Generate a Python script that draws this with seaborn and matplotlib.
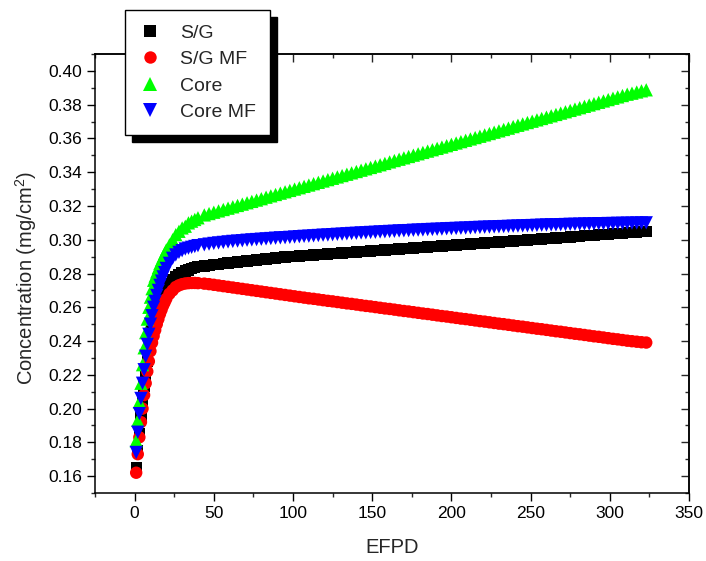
import matplotlib

matplotlib.use("Agg", force=True)
import matplotlib.pyplot as plt
import pandas as pd
import seaborn as sns
from matplotlib.ticker import MultipleLocator, FormatStrFormatter

# EFPD sample positions: daily at the start, every 2 then every 3 days
efpd = [
    1, 2, 3, 4, 5, 6, 7, 8, 9, 10, 11, 12, 13, 14, 15, 16, 17, 18, 19, 20,
    22, 24, 26, 28, 30, 32, 34, 36, 38, 40,
    44, 47, 50, 53, 56, 59, 62, 65, 68, 71,
    74, 77, 80, 83, 86, 89, 92, 95, 98, 101,
    104, 107, 110, 113, 116, 119, 122, 125, 128, 131,
    134, 137, 140, 143, 146, 149, 152, 155, 158, 161,
    164, 167, 170, 173, 176, 179, 182, 185, 188, 191,
    194, 197, 200, 203, 206, 209, 212, 215, 218, 221,
    224, 227, 230, 233, 236, 239, 242, 245, 248, 251,
    254, 257, 260, 263, 266, 269, 272, 275, 278, 281,
    284, 287, 290, 293, 296, 299, 302, 305, 308, 311,
    314, 317, 320, 323,
]

sg = [
    0.165, 0.175, 0.185, 0.195, 0.204, 0.213, 0.220, 0.228, 0.235, 0.241,
    0.247, 0.252, 0.2555, 0.259, 0.2615, 0.264, 0.266, 0.268, 0.270, 0.2715,
    0.274, 0.2765, 0.278, 0.2795, 0.2805, 0.2815, 0.282, 0.2828, 0.2834, 0.284,
    0.2844, 0.2848, 0.2852, 0.2855, 0.2859, 0.2862, 0.2865, 0.2868, 0.2871, 0.2874,
    0.2877, 0.2880, 0.2883, 0.2886, 0.2889, 0.2892, 0.2895, 0.2897, 0.2900, 0.2902,
    0.2904, 0.2906, 0.2908, 0.2910, 0.2912, 0.2914, 0.2916, 0.2918, 0.2920, 0.2922,
    0.2924, 0.2926, 0.2928, 0.2930, 0.2932, 0.2934, 0.2936, 0.2937, 0.2939, 0.2941,
    0.2943, 0.2945, 0.2947, 0.2949, 0.2951, 0.2953, 0.2955, 0.2957, 0.2959, 0.2961,
    0.2963, 0.2965, 0.2967, 0.2969, 0.2971, 0.2973, 0.2975, 0.2977, 0.2979, 0.2981,
    0.2983, 0.2985, 0.2987, 0.2989, 0.2991, 0.2993, 0.2995, 0.2997, 0.2999, 0.3001,
    0.3003, 0.3005, 0.3007, 0.3009, 0.3011, 0.3013, 0.3015, 0.3017, 0.3019, 0.3021,
    0.3023, 0.3025, 0.3027, 0.3029, 0.3031, 0.3033, 0.3035, 0.3037, 0.3039, 0.3041,
    0.3043, 0.3045, 0.3047, 0.3048,
]

sg_mf = [
    0.162, 0.173, 0.183, 0.192, 0.200, 0.208, 0.215, 0.222, 0.228, 0.234,
    0.239, 0.243, 0.2465, 0.250, 0.253, 0.256, 0.2585, 0.261, 0.263, 0.265,
    0.268, 0.270, 0.272, 0.273, 0.2737, 0.2741, 0.2743, 0.2744, 0.2744, 0.2743,
    0.2740, 0.2737, 0.2733, 0.2729, 0.2725, 0.2721, 0.2717, 0.2713, 0.2709, 0.2705,
    0.2701, 0.2697, 0.2693, 0.2689, 0.2685, 0.2681, 0.2677, 0.2673, 0.2669, 0.2665,
    0.2661, 0.2657, 0.2653, 0.2650, 0.2646, 0.2642, 0.2638, 0.2635, 0.2631, 0.2627,
    0.2623, 0.2620, 0.2616, 0.2612, 0.2608, 0.2605, 0.2601, 0.2597, 0.2593, 0.2590,
    0.2586, 0.2582, 0.2578, 0.2575, 0.2571, 0.2567, 0.2563, 0.2560, 0.2556, 0.2552,
    0.2548, 0.2545, 0.2541, 0.2537, 0.2533, 0.2530, 0.2526, 0.2522, 0.2518, 0.2515,
    0.2511, 0.2507, 0.2503, 0.2500, 0.2496, 0.2492, 0.2488, 0.2485, 0.2481, 0.2477,
    0.2473, 0.2470, 0.2466, 0.2462, 0.2458, 0.2455, 0.2451, 0.2447, 0.2443, 0.2440,
    0.2436, 0.2432, 0.2428, 0.2425, 0.2421, 0.2417, 0.2413, 0.2410, 0.2406, 0.2402,
    0.2399, 0.2396, 0.2393, 0.2391,
]

core = [
    0.181, 0.193, 0.204, 0.215, 0.226, 0.236, 0.245, 0.253, 0.260, 0.266,
    0.271, 0.276, 0.2785, 0.281, 0.2835, 0.286, 0.288, 0.290, 0.292, 0.294,
    0.297, 0.300, 0.303, 0.305, 0.307, 0.308, 0.310, 0.311, 0.312, 0.313,
    0.3147, 0.3155, 0.3163, 0.3171, 0.3179, 0.3187, 0.3195, 0.3203, 0.3211, 0.3219,
    0.3227, 0.3235, 0.3243, 0.3252, 0.3260, 0.3268, 0.3276, 0.3284, 0.3292, 0.3300,
    0.3308, 0.3316, 0.3324, 0.3332, 0.3340, 0.3348, 0.3356, 0.3364, 0.3372, 0.3380,
    0.3388, 0.3396, 0.3404, 0.3412, 0.3420, 0.3428, 0.3436, 0.3444, 0.3452, 0.3461,
    0.3469, 0.3477, 0.3485, 0.3493, 0.3501, 0.3509, 0.3517, 0.3525, 0.3533, 0.3541,
    0.3549, 0.3557, 0.3565, 0.3573, 0.3581, 0.3589, 0.3597, 0.3605, 0.3613, 0.3621,
    0.3629, 0.3637, 0.3645, 0.3653, 0.3661, 0.3670, 0.3678, 0.3686, 0.3694, 0.3702,
    0.3710, 0.3718, 0.3726, 0.3734, 0.3742, 0.3750, 0.3758, 0.3766, 0.3774, 0.3782,
    0.3790, 0.3798, 0.3806, 0.3814, 0.3822, 0.3830, 0.3838, 0.3846, 0.3854, 0.3862,
    0.3868, 0.3875, 0.3882, 0.3888,
]

core_mf = [
    0.174, 0.186, 0.197, 0.206, 0.215, 0.223, 0.231, 0.238, 0.244, 0.250,
    0.255, 0.260, 0.2635, 0.267, 0.270, 0.273, 0.2755, 0.278, 0.2805, 0.283,
    0.286, 0.289, 0.291, 0.2925, 0.2935, 0.2945, 0.295, 0.2955, 0.296, 0.2965,
    0.2970, 0.2974, 0.2978, 0.2981, 0.2984, 0.2987, 0.2990, 0.2992, 0.2994, 0.2997,
    0.2999, 0.3001, 0.3003, 0.3005, 0.3007, 0.3009, 0.3011, 0.3012, 0.3014, 0.3016,
    0.3018, 0.3020, 0.3021, 0.3023, 0.3025, 0.3027, 0.3028, 0.3030, 0.3032, 0.3033,
    0.3035, 0.3037, 0.3038, 0.3040, 0.3041, 0.3043, 0.3044, 0.3046, 0.3047, 0.3049,
    0.3050, 0.3052, 0.3053, 0.3054, 0.3056, 0.3057, 0.3058, 0.3060, 0.3061, 0.3062,
    0.3063, 0.3065, 0.3066, 0.3067, 0.3068, 0.3069, 0.3070, 0.3072, 0.3073, 0.3074,
    0.3075, 0.3076, 0.3077, 0.3078, 0.3079, 0.3080, 0.3081, 0.3082, 0.3083, 0.3084,
    0.3085, 0.3086, 0.3087, 0.3088, 0.3088, 0.3089, 0.3090, 0.3091, 0.3091, 0.3092,
    0.3093, 0.3093, 0.3094, 0.3095, 0.3095, 0.3096, 0.3096, 0.3097, 0.3097, 0.3098,
    0.3098, 0.3099, 0.3099, 0.3100,
]

series_names = ["S/G", "S/G MF", "Core", "Core MF"]
series_values = [sg, sg_mf, core, core_mf]
colors = {"S/G": "#000000", "S/G MF": "#ff0000", "Core": "#00ff00", "Core MF": "#0000ff"}
markers = {"S/G": "s", "S/G MF": "o", "Core": "^", "Core MF": "v"}
marker_area = {"S/G": 66, "S/G MF": 80, "Core": 92, "Core MF": 92}

frames = []
for name, vals in zip(series_names, series_values):
    frames.append(pd.DataFrame({"EFPD": efpd, "conc": vals, "series": name}))
data = pd.concat(frames, ignore_index=True)

sns.set_theme(style="ticks")
plt.rcParams["font.family"] = ["Liberation Sans", "DejaVu Sans"]
plt.rcParams["mathtext.fontset"] = "custom"
plt.rcParams["mathtext.rm"] = "Liberation Sans"

fig = plt.figure(figsize=(7.06, 5.61), dpi=100)
ax = fig.add_axes([95 / 706, 1 - 493 / 561, 594 / 706, 439 / 561])

sns.scatterplot(
    data=data, x="EFPD", y="conc", hue="series", style="series", size="series",
    hue_order=series_names, style_order=series_names, size_order=series_names,
    palette=colors, markers=markers, sizes=marker_area, linewidth=0, ax=ax, legend=True,
)

ax.set_xlim(-25, 350)
ax.set_ylim(0.15, 0.41)
ax.xaxis.set_major_locator(MultipleLocator(50))
ax.xaxis.set_minor_locator(MultipleLocator(25))
ax.yaxis.set_major_locator(MultipleLocator(0.02))
ax.yaxis.set_minor_locator(MultipleLocator(0.01))
ax.yaxis.set_major_formatter(FormatStrFormatter("%.2f"))
ax.tick_params(which="major", direction="out", length=5.5, width=1, pad=3.5,
               labelsize=12.5, colors="black")
ax.tick_params(which="minor", direction="out", length=3, width=1)
ax.set_xlabel("EFPD", fontsize=14.5)
ax.set_ylabel("Concentration (mg/cm$^2$)", fontsize=14.5)
ax.xaxis.set_label_coords(0.5, -0.103)
ax.yaxis.set_label_coords(-0.094, 0.49)
for sp in ax.spines.values():
    sp.set_visible(True)
    sp.set_linewidth(1.1)
    sp.set_color("black")

# mirrored ticks on top / right pointing inward, no labels
top = ax.secondary_xaxis("top")
top.xaxis.set_major_locator(MultipleLocator(50))
top.xaxis.set_minor_locator(MultipleLocator(25))
top.tick_params(which="major", direction="in", length=5.5, width=1, labeltop=False)
top.tick_params(which="minor", direction="in", length=3, width=1)
right = ax.secondary_yaxis("right")
right.yaxis.set_major_locator(MultipleLocator(0.02))
right.yaxis.set_minor_locator(MultipleLocator(0.01))
right.tick_params(which="major", direction="in", length=5.5, width=1, labelright=False)
right.tick_params(which="minor", direction="in", length=3, width=1)

handles, labels = ax.get_legend_handles_labels()
ax.get_legend().remove()
leg = fig.legend(
    handles, labels, loc="upper left",
    bbox_to_anchor=(125 / 706, 1 - 10 / 561), bbox_transform=fig.transFigure,
    fontsize=14, frameon=True, fancybox=False, framealpha=1, edgecolor="black",
    borderpad=0.72, labelspacing=0.46, handletextpad=0.95, handlelength=1.18,
    borderaxespad=0, markerscale=1.0,
    shadow={"ox": 5, "oy": -5, "facecolor": "black", "edgecolor": "black", "alpha": 1},
)
leg.get_frame().set_linewidth(1.0)
leg.set_zorder(10)

fig.savefig("out.png", dpi=100)
plt.close(fig)
